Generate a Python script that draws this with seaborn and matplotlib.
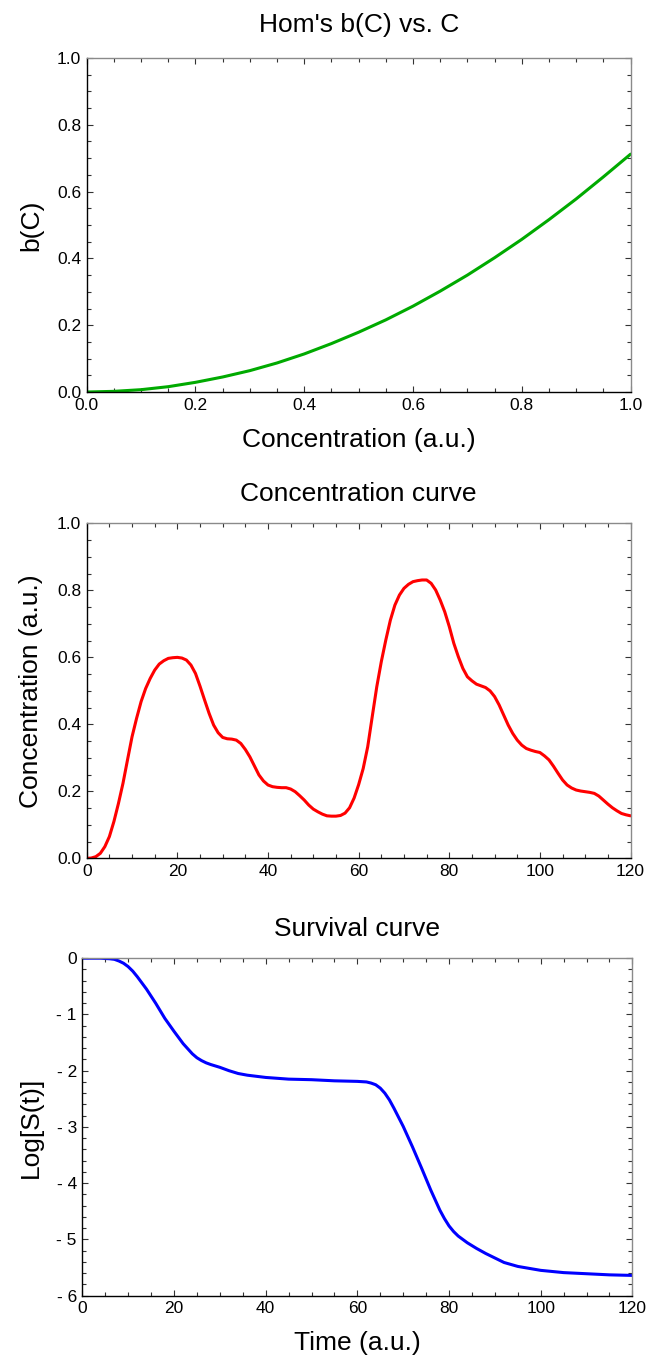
import numpy as np
import pandas as pd
import seaborn as sns
import matplotlib.pyplot as plt
from matplotlib.ticker import MultipleLocator, FuncFormatter

# Hom's b(C)
conc = [0.0, 0.05, 0.1, 0.15, 0.2, 0.25, 0.3, 0.35, 0.4, 0.45, 0.5,
        0.55, 0.6, 0.65, 0.7, 0.75, 0.8, 0.85, 0.9, 0.95, 1.0]
b_of_c = [0.0, 0.002, 0.007, 0.016, 0.029, 0.045, 0.064, 0.087, 0.114, 0.145, 0.179,
          0.216, 0.257, 0.302, 0.350, 0.402, 0.457, 0.516, 0.578, 0.644, 0.712]

# concentration curve (every time unit)
time_c = list(range(0, 121))
conc_t = [0.0, 0.001, 0.005, 0.015, 0.035, 0.065, 0.11, 0.164, 0.224, 0.294,
          0.363, 0.418, 0.468, 0.507, 0.537, 0.562, 0.58, 0.59, 0.597, 0.599,
          0.6, 0.598, 0.592, 0.577, 0.552, 0.514, 0.473, 0.433, 0.398, 0.375,
          0.361, 0.357, 0.356, 0.353, 0.343, 0.325, 0.303, 0.276, 0.249, 0.231,
          0.219, 0.214, 0.212, 0.211, 0.211, 0.207, 0.199, 0.187, 0.174, 0.159,
          0.147, 0.139, 0.132, 0.127, 0.126, 0.126, 0.128, 0.135, 0.151, 0.18,
          0.22, 0.268, 0.333, 0.423, 0.512, 0.587, 0.652, 0.711, 0.756, 0.786,
          0.806, 0.818, 0.826, 0.829, 0.831, 0.831, 0.821, 0.801, 0.771, 0.736,
          0.692, 0.642, 0.602, 0.567, 0.542, 0.530, 0.520, 0.515, 0.510, 0.5,
          0.483, 0.458, 0.428, 0.398, 0.373, 0.353, 0.338, 0.328, 0.323, 0.319,
          0.316, 0.306, 0.294, 0.275, 0.254, 0.234, 0.219, 0.21, 0.204, 0.201,
          0.199, 0.197, 0.194, 0.186, 0.174, 0.162, 0.151, 0.142, 0.134, 0.13,
          0.127]

# survival curve
time_s = [0, 4, 6, 7, 8, 9, 10, 11, 12, 14, 16, 18, 20, 22, 24, 25, 26, 27, 28, 30,
          32, 34, 36, 38, 40, 45, 50, 55, 60, 62, 63, 64, 65, 66, 67, 68, 70, 72, 74,
          76, 78, 79, 80, 81, 82, 83, 84, 86, 88, 90, 92, 95, 100, 105, 110, 115, 120]
log_s = [0.0, 0.0, -0.01, -0.02, -0.05, -0.09, -0.15, -0.23, -0.33, -0.55, -0.80,
         -1.07, -1.30, -1.52, -1.70, -1.77, -1.82, -1.86, -1.89, -1.94,
         -2.00, -2.05, -2.08, -2.10, -2.12, -2.15, -2.16, -2.18, -2.19, -2.20,
         -2.22, -2.25, -2.31, -2.40, -2.52, -2.67, -2.99, -3.35, -3.73,
         -4.12, -4.48, -4.63, -4.76, -4.86, -4.94, -5.00, -5.06, -5.16, -5.25,
         -5.33, -5.41, -5.48, -5.55, -5.59, -5.61, -5.63, -5.64]

sns.set_theme(style="white")
plt.rcParams['font.family'] = ['Liberation Sans', 'DejaVu Sans']
plt.rcParams['text.color'] = 'black'
plt.rcParams['axes.labelcolor'] = 'black'

fig = plt.figure(figsize=(6.56, 13.64), dpi=100)
ax1 = fig.add_axes([0.1322, 0.7126, 0.829, 0.2449])
ax2 = fig.add_axes([0.1322, 0.3707, 0.829, 0.2456])
ax3 = fig.add_axes([0.1255, 0.0501, 0.8385, 0.2474])

sns.lineplot(x=conc, y=b_of_c, ax=ax1, color="#00AA00", linewidth=2.2)
sns.lineplot(x=time_c, y=conc_t, ax=ax2, color="#FF0000", linewidth=2.2)
sns.lineplot(x=time_s, y=log_s, ax=ax3, color="#0000FF", linewidth=2.2)


def frame(ax):
    for side in ['left', 'bottom']:
        ax.spines[side].set_color('black')
        ax.spines[side].set_linewidth(1.0)
    for side in ['top', 'right']:
        ax.spines[side].set_color('#8a8a8a')
        ax.spines[side].set_linewidth(1.0)
    ax.tick_params(which='both', direction='in', left=True, bottom=True,
                   top=True, right=True, labelsize=12.5, colors='#333333',
                   labelcolor='black', pad=4)
    ax.tick_params(which='major', length=4.5, width=0.8)
    ax.tick_params(which='minor', length=3, width=0.8)


ax1.set_xlim(0, 1)
ax1.set_ylim(0, 1)
ax1.xaxis.set_major_locator(MultipleLocator(0.2))
ax1.xaxis.set_minor_locator(MultipleLocator(0.05))
ax1.yaxis.set_major_locator(MultipleLocator(0.2))
ax1.yaxis.set_minor_locator(MultipleLocator(0.05))
ax1.xaxis.set_major_formatter(FuncFormatter(lambda v, p: f"{v:.1f}"))
ax1.yaxis.set_major_formatter(FuncFormatter(lambda v, p: f"{v:.1f}"))
frame(ax1)
ax1.set_title("Hom's b(C) vs. C", fontsize=19, pad=19)
ax1.set_xlabel("Concentration (a.u.)", fontsize=19, labelpad=11)
ax1.set_ylabel("b(C)", fontsize=19, labelpad=10)

ax2.set_xlim(0, 120)
ax2.set_ylim(0, 1)
ax2.xaxis.set_major_locator(MultipleLocator(20))
ax2.xaxis.set_minor_locator(MultipleLocator(5))
ax2.yaxis.set_major_locator(MultipleLocator(0.2))
ax2.yaxis.set_minor_locator(MultipleLocator(0.05))
ax2.yaxis.set_major_formatter(FuncFormatter(lambda v, p: f"{v:.1f}"))
frame(ax2)
ax2.set_title("Concentration curve", fontsize=19, pad=16)
ax2.set_ylabel("Concentration (a.u.)", fontsize=19, labelpad=10)

ax3.set_xlim(0, 120)
ax3.set_ylim(-6, 0)
ax3.xaxis.set_major_locator(MultipleLocator(20))
ax3.xaxis.set_minor_locator(MultipleLocator(5))
ax3.yaxis.set_major_locator(MultipleLocator(1))
ax3.yaxis.set_minor_locator(MultipleLocator(0.2))
ax3.yaxis.set_major_formatter(
    FuncFormatter(lambda v, p: "0" if round(v) == 0 else f"- {abs(int(round(v)))}"))
frame(ax3)
ax3.set_title("Survival curve", fontsize=19, pad=16)
ax3.set_xlabel("Time (a.u.)", fontsize=19, labelpad=11)
ax3.set_ylabel("Log[S(t)]", fontsize=19, labelpad=10)

fig.savefig("out.png", dpi=100)
